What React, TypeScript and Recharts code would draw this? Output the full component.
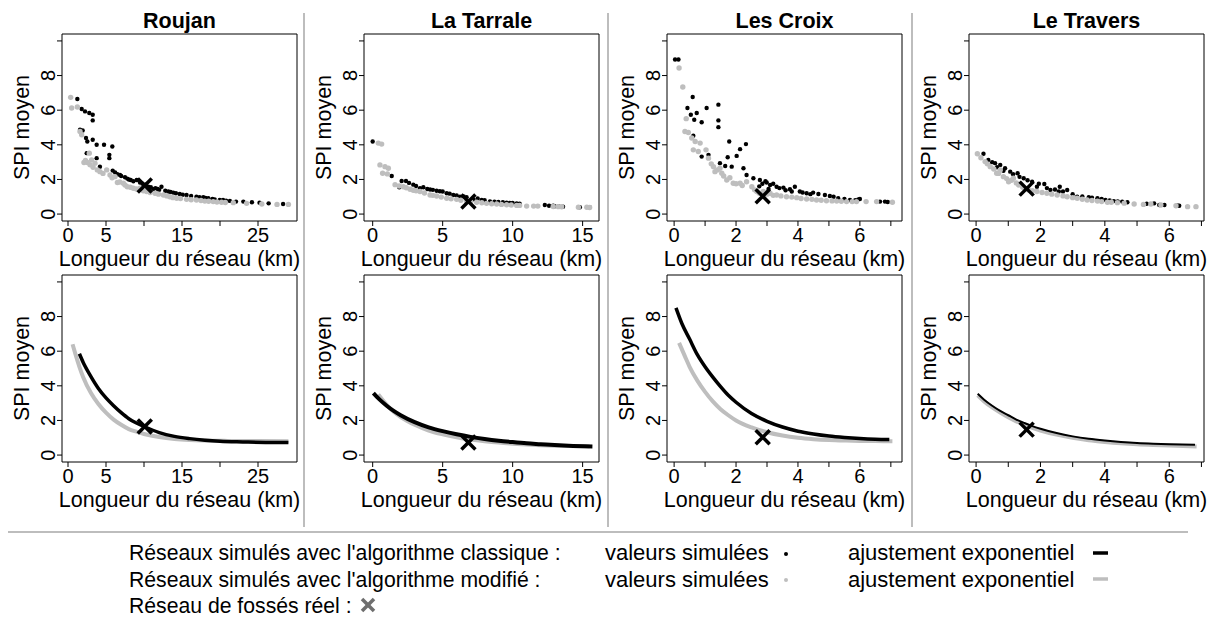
import React from "react";
import { ComposedChart, Scatter, Line, XAxis, YAxis, ReferenceArea } from "recharts";

type Pt = [number, number];

const GREY = "#bebebe";
const FONT = "'Liberation Sans', Arial, Helvetica, sans-serif";

const siteNames = ["Roujan", "La Tarrale", "Les Croix", "Le Travers"];

// axes
const xDomains: [number, number][] = [
  [-0.79, 30.13],
  [-0.62, 16.17],
  [-0.23, 7.36],
  [-0.22, 7.08],
];
const xTicks = [
  [0, 5, 10, 15, 20, 25],
  [0, 5, 10, 15],
  [0, 1, 2, 3, 4, 5, 6, 7],
  [0, 1, 2, 3, 4, 5, 6, 7],
];
const xTickLabels = [
  [0, 5, 15, 25],
  [0, 5, 10, 15],
  [0, 2, 4, 6],
  [0, 2, 4, 6],
];
const yDomain: [number, number] = [-0.4, 10.4];
const yTicks = [0, 2, 4, 6, 8, 10];
const yTickLabels = [0, 2, 4, 6, 8];

// réseaux réels (x)
const realNetwork: Pt[] = [
  [10.1, 1.65],
  [6.84, 0.72],
  [2.86, 1.03],
  [1.57, 1.47],
];

// valeurs simulées - algorithme classique
const roujanClassic: Pt[] = [
  [1.23, 6.65], [1.8, 6.07], [2.24, 5.93], [2.8, 5.84], [3.25, 5.74], [3.25, 5.41],
  [1.58, 4.87], [1.93, 4.83], [2.37, 4.39], [2.54, 4.19], [3.25, 4.29], [3.77, 4.0],
  [4.74, 4.0], [5.83, 3.9], [5.44, 3.42], [5.44, 3.23], [2.46, 3.52], [3.77, 3.23],
  [4.2, 2.74], [5.88, 2.51], [6.2, 2.4], [6.5, 2.3], [6.84, 2.26], [7.0, 2.2], [7.5, 2.13],
  [7.8, 2.05], [8.0, 2.0], [8.25, 1.97], [8.6, 1.9], [9.04, 1.97], [9.47, 1.82], [9.8, 1.75],
  [10.2, 1.7], [10.57, 1.58], [10.9, 1.55], [11.23, 1.43], [11.5, 1.5], [11.8, 1.45],
  [12.0, 1.4], [12.3, 1.58], [12.8, 1.35], [13.2, 1.3], [13.5, 1.28], [13.86, 1.24],
  [14.2, 1.2], [14.7, 1.16], [15.1, 1.12], [15.6, 1.1], [16.2, 1.05], [16.9, 1.0],
  [17.3, 0.98], [17.8, 0.97], [18.1, 0.93], [18.46, 0.91], [19.0, 0.87], [19.3, 0.85],
  [19.97, 0.81], [20.4, 0.82], [20.8, 0.77], [21.3, 0.76], [22.1, 0.72], [23.07, 0.72],
  [24.2, 0.68], [25.2, 0.66], [26.4, 0.62], [28.3, 0.58],
];
const tarraleClassic: Pt[] = [
  [0.0, 4.19], [1.36, 2.2], [1.9, 1.55], [2.07, 1.91], [2.38, 1.91], [2.6, 1.8],
  [2.9, 1.7], [3.1, 1.62], [3.38, 1.49], [3.62, 1.55], [3.9, 1.45], [4.1, 1.42],
  [4.3, 1.4], [4.57, 1.35], [4.8, 1.32], [5.0, 1.3], [5.29, 1.2], [5.5, 1.18], [5.76, 1.1],
  [6.0, 1.07], [6.24, 1.0], [6.5, 1.02], [6.71, 0.97], [7.19, 0.85], [7.5, 0.9],
  [7.79, 0.81], [8.0, 0.8], [8.38, 0.73], [8.7, 0.72], [8.98, 0.7], [9.3, 0.68],
  [9.57, 0.66], [9.8, 0.64], [10.0, 0.64], [10.29, 0.62], [10.5, 0.6], [12.3, 0.52],
  [12.6, 0.48], [12.9, 0.48], [13.0, 0.45], [13.3, 0.44], [13.6, 0.43], [14.8, 0.39],
  [15.5, 0.39],
];
const croixClassic: Pt[] = [
  [0.03, 8.93], [0.14, 8.93], [0.43, 6.13], [0.6, 6.76], [0.54, 5.74], [0.65, 5.45],
  [0.73, 5.84], [0.62, 4.52], [0.89, 5.3], [1.05, 6.13], [0.89, 3.32], [1.11, 3.42],
  [1.43, 6.32], [1.43, 5.41], [1.43, 5.02], [1.78, 4.19], [1.73, 3.28], [2.02, 3.36],
  [2.13, 3.75], [2.32, 4.04], [1.48, 2.94], [1.65, 2.78], [1.86, 2.74], [2.24, 2.65],
  [2.34, 2.26], [2.56, 2.07], [2.75, 1.6], [2.77, 1.97], [2.85, 1.75], [2.95, 1.9],
  [2.99, 1.82], [3.05, 1.45], [3.1, 1.68], [3.2, 1.75], [3.31, 1.58], [3.4, 1.5],
  [3.53, 1.53], [3.6, 1.38], [3.74, 1.43], [3.8, 1.3], [3.9, 1.58], [4.06, 1.3],
  [4.15, 1.25], [4.28, 1.2], [4.4, 1.15], [4.49, 1.24], [4.66, 1.16], [4.87, 1.1],
  [5.03, 1.04], [5.15, 1.0], [5.3, 0.91], [5.5, 0.88], [5.68, 0.81], [5.85, 0.8],
  [5.95, 0.85], [6.0, 0.87], [6.65, 0.72], [6.81, 0.72], [6.9, 0.7],
];
const traversClassic: Pt[] = [
  [0.23, 3.48], [0.38, 3.13], [0.5, 3.0], [0.59, 2.94], [0.65, 2.7], [0.75, 2.84],
  [0.85, 2.5], [0.9, 2.65], [1.06, 2.45], [1.15, 2.3], [1.29, 2.36], [1.35, 2.15],
  [1.48, 2.07], [1.6, 1.95], [1.74, 1.87], [1.95, 1.75], [2.12, 1.74], [1.89, 1.58],
  [2.2, 1.5], [2.31, 1.39], [2.45, 1.42], [2.6, 1.58], [2.7, 1.3], [2.83, 1.39],
  [2.57, 1.3], [3.0, 1.15], [3.14, 1.0], [3.3, 1.02], [3.5, 0.97], [3.6, 0.95],
  [3.77, 0.91], [3.9, 0.88], [4.02, 0.81], [4.15, 0.78], [4.28, 0.75], [4.4, 0.73],
  [4.54, 0.72], [4.7, 0.68], [5.3, 0.6], [5.53, 0.62], [5.69, 0.52], [5.85, 0.52],
  [6.25, 0.5], [6.31, 0.48],
];

// valeurs simulées - algorithme modifié
const roujanModified: Pt[] = [
  [0.35, 6.74], [0.48, 6.13], [1.23, 6.18], [1.58, 4.77], [1.8, 4.58], [2.1, 2.98],
  [2.3, 3.1], [2.54, 2.98], [2.8, 3.52], [2.9, 2.85], [3.11, 3.13], [3.3, 2.7],
  [3.55, 2.94], [3.86, 2.55], [4.2, 2.45], [4.6, 2.35], [5.09, 2.55], [5.53, 2.26],
  [5.8, 2.1], [6.18, 2.16], [6.5, 1.82], [6.8, 1.85], [7.28, 1.78], [7.5, 1.68],
  [7.8, 1.58], [8.2, 1.55], [8.6, 1.49], [9.0, 1.45], [9.47, 1.49], [9.9, 1.35],
  [10.35, 1.3], [10.8, 1.25], [11.45, 1.2], [11.9, 1.15], [12.55, 1.1], [13.0, 1.05],
  [13.4, 1.0], [13.8, 0.95], [14.3, 0.91], [14.8, 0.9], [15.6, 0.85], [16.2, 0.83],
  [16.9, 0.81], [17.5, 0.78], [18.0, 0.75], [18.5, 0.74], [19.1, 0.72], [19.6, 0.7],
  [20.2, 0.68], [20.7, 0.67], [21.75, 0.66], [23.5, 0.62], [25.5, 0.58], [27.5, 0.56],
  [29.0, 0.56],
];
const tarraleModified: Pt[] = [
  [0.4, 4.1], [0.64, 4.04], [0.52, 2.84], [0.88, 2.74], [1.12, 2.65], [0.71, 2.36],
  [1.05, 2.32], [1.6, 1.7], [1.9, 1.62], [2.19, 1.58], [2.4, 1.52], [2.67, 1.43],
  [2.9, 1.38], [3.1, 1.35], [3.38, 1.3], [3.7, 1.22], [4.1, 1.1], [4.3, 1.08],
  [4.57, 1.04], [4.9, 0.98], [5.29, 0.91], [5.6, 0.88], [6.0, 0.85], [6.3, 0.8],
  [6.71, 0.75], [7.0, 0.72], [7.43, 0.68], [7.8, 0.65], [8.14, 0.62], [8.5, 0.6],
  [8.86, 0.58], [9.2, 0.56], [9.57, 0.54], [9.9, 0.52], [10.29, 0.5], [10.5, 0.5],
  [11.0, 0.46], [11.5, 0.46], [11.8, 0.46], [12.9, 0.44], [13.26, 0.43], [13.5, 0.42],
  [14.7, 0.39], [15.3, 0.39], [15.5, 0.38],
];
const croixModified: Pt[] = [
  [0.16, 8.44], [0.28, 7.34], [0.39, 5.51], [0.35, 4.77], [0.46, 4.71], [0.57, 4.39],
  [0.68, 4.19], [0.84, 4.1], [0.62, 3.71], [0.78, 3.61], [1.03, 3.71], [1.11, 3.23],
  [1.2, 2.9], [1.27, 2.74], [1.32, 2.45], [1.4, 2.55], [1.48, 2.65], [1.54, 2.36],
  [1.6, 2.2], [1.7, 1.97], [1.8, 2.1], [1.91, 1.78], [2.0, 1.75], [2.13, 1.78],
  [2.2, 1.65], [2.34, 1.87], [2.51, 1.58], [2.6, 1.4], [2.67, 1.3], [2.75, 1.2],
  [2.88, 1.3], [3.0, 1.15], [3.1, 1.2], [3.2, 1.08], [3.31, 1.1], [3.45, 1.05],
  [3.63, 1.0], [3.8, 0.98], [3.96, 0.95], [4.1, 0.9], [4.28, 0.87], [4.45, 0.85],
  [4.6, 0.81], [4.75, 0.8], [4.92, 0.77], [5.1, 0.76], [5.25, 0.75], [5.4, 0.74],
  [5.57, 0.72], [5.75, 0.72], [5.89, 0.72], [6.2, 0.72], [6.54, 0.72], [7.05, 0.68],
];
const traversModified: Pt[] = [
  [0.04, 3.48], [0.15, 3.25], [0.28, 3.03], [0.35, 2.9], [0.44, 2.74], [0.55, 2.6],
  [0.64, 2.36], [0.7, 2.35], [0.75, 2.55], [0.85, 2.16], [0.95, 2.05], [1.01, 1.87],
  [1.1, 1.95], [1.16, 2.07], [1.25, 1.8], [1.32, 1.68], [1.45, 1.55], [1.63, 1.39],
  [1.75, 1.35], [1.89, 1.3], [2.05, 1.25], [2.2, 1.2], [2.35, 1.15], [2.52, 1.1],
  [2.7, 1.05], [2.83, 1.0], [3.0, 0.95], [3.14, 0.91], [3.3, 0.86], [3.45, 0.81],
  [3.6, 0.78], [3.77, 0.75], [3.9, 0.72], [4.08, 0.68], [4.2, 0.68], [4.39, 0.66],
  [4.6, 0.63], [4.91, 0.58], [5.2, 0.56], [5.43, 0.58], [5.74, 0.52], [6.21, 0.48],
  [6.57, 0.43], [6.83, 0.43],
];

// ajustement exponentiel
const roujanFitClassic: Pt[] = [
  [1.5, 5.85], [2, 5.35], [3, 4.55], [4, 3.85], [5, 3.3], [6, 2.85], [7, 2.45], [8, 2.1],
  [9, 1.85], [10, 1.65], [12, 1.3], [14, 1.08], [16, 0.95], [18, 0.86], [20, 0.8],
  [23, 0.76], [26, 0.73], [29, 0.72],
];
const roujanFitModified: Pt[] = [
  [0.6, 6.4], [1, 5.8], [1.5, 5.1], [2, 4.5], [3, 3.6], [4, 2.95], [5, 2.45], [6, 2.05],
  [7, 1.75], [8, 1.5], [9, 1.35], [10, 1.22], [12, 1.04], [14, 0.93], [16, 0.87],
  [18, 0.84], [21, 0.82], [25, 0.81], [29, 0.8],
];
const tarraleFitClassic: Pt[] = [
  [0.05, 3.58], [0.5, 3.2], [1, 2.85], [1.5, 2.55], [2, 2.3], [3, 1.9], [4, 1.6],
  [5, 1.38], [6, 1.2], [7, 1.05], [8, 0.93], [9, 0.83], [10, 0.75], [11, 0.68],
  [12, 0.63], [13, 0.58], [14, 0.54], [15.7, 0.5],
];
const tarraleFitModified: Pt[] = [
  [0.4, 3.5], [1, 2.9], [1.5, 2.5], [2, 2.2], [3, 1.75], [4, 1.42], [5, 1.2], [6, 1.03],
  [7, 0.9], [8, 0.8], [9, 0.72], [10, 0.66], [11, 0.61], [12, 0.57], [13, 0.54],
  [14, 0.52], [15.5, 0.5],
];
const croixFitClassic: Pt[] = [
  [0.06, 8.5], [0.25, 7.6], [0.5, 6.7], [0.75, 5.8], [1, 5.1], [1.25, 4.5], [1.5, 3.95],
  [1.75, 3.45], [2, 3.05], [2.5, 2.4], [3, 1.95], [3.5, 1.62], [4, 1.38], [4.5, 1.22],
  [5, 1.1], [5.5, 1.02], [6, 0.96], [6.5, 0.92], [6.95, 0.9],
];
const croixFitModified: Pt[] = [
  [0.16, 6.48], [0.35, 5.7], [0.5, 5.1], [0.75, 4.3], [1, 3.65], [1.25, 3.1], [1.5, 2.65],
  [1.75, 2.3], [2, 2.0], [2.5, 1.6], [3, 1.32], [3.5, 1.13], [4, 1.0], [4.5, 0.92],
  [5, 0.87], [5.5, 0.84], [6, 0.82], [6.5, 0.81], [7.05, 0.8],
];
const traversFitClassic: Pt[] = [
  [0.05, 3.54], [0.25, 3.2], [0.5, 2.85], [0.75, 2.55], [1, 2.3], [1.25, 2.05],
  [1.5, 1.85], [1.75, 1.67], [2, 1.52], [2.5, 1.27], [3, 1.08], [3.5, 0.94], [4, 0.84],
  [4.5, 0.76], [5, 0.7], [5.5, 0.66], [6, 0.63], [6.8, 0.6],
];
const traversFitModified: Pt[] = [
  [0.05, 3.45], [0.25, 3.1], [0.5, 2.75], [0.75, 2.45], [1, 2.18], [1.25, 1.95],
  [1.5, 1.75], [1.75, 1.57], [2, 1.42], [2.5, 1.18], [3, 1.0], [3.5, 0.86], [4, 0.76],
  [4.5, 0.68], [5, 0.62], [5.5, 0.58], [6, 0.55], [6.85, 0.5],
];

const classicPoints = [roujanClassic, tarraleClassic, croixClassic, traversClassic];
const modifiedPoints = [roujanModified, tarraleModified, croixModified, traversModified];
const classicFits = [roujanFitClassic, tarraleFitClassic, croixFitClassic, traversFitClassic];
const modifiedFits = [roujanFitModified, tarraleFitModified, croixFitModified, traversFitModified];
const classicFitWidth = [3.5, 4, 3.5, 2];

// layout
const boxLeft = [62, 364, 667, 969];
const boxW = 235;
const boxH = 187;
const rowTop = [34, 275];
const Y_AXIS_W = 62;
const CHART_W = Y_AXIS_W + boxW + 8;
const CHART_H = 34 + boxH + 50;

const toObj = (pts: Pt[]) => pts.map(([x, y]) => ({ x, y }));

const Cross = (props: any) => {
  const { cx, cy } = props;
  if (cx == null || cy == null) return <g />;
  const s = 7;
  return (
    <g stroke="#000" strokeWidth={3.5}>
      <line x1={cx - s} y1={cy - s} x2={cx + s} y2={cy + s} />
      <line x1={cx - s} y1={cy + s} x2={cx + s} y2={cy - s} />
    </g>
  );
};

const dot = (r: number, fill: string) => (props: any) =>
  <circle cx={props.cx} cy={props.cy} r={r} fill={fill} />;

function Panel({ i, row }: { i: number; row: number }) {
  const labelsX = xTickLabels[i];
  const dom = xDomains[i];
  return (
    <div style={{ position: "absolute", left: boxLeft[i] - Y_AXIS_W, top: rowTop[row] - 34 }}>
      <ComposedChart
        width={CHART_W}
        height={CHART_H}
        margin={{ top: 34, right: 8, bottom: 0, left: 0 }}
      >
        <XAxis
          type="number"
          dataKey="x"
          domain={dom}
          ticks={xTicks[i]}
          interval={0}
          allowDataOverflow
          axisLine={false}
          tickSize={5}
          tickLine={{ stroke: "#000" }}
          height={50}
          tick={(p: any) =>
            labelsX.includes(p.payload.value) ? (
              <text x={p.x} y={p.y} dy={14} textAnchor="middle" fontSize={20} fontFamily={FONT} fill="#000">
                {p.payload.value}
              </text>
            ) : (
              <g />
            )
          }
        />
        <YAxis
          type="number"
          dataKey="y"
          domain={yDomain}
          ticks={yTicks}
          interval={0}
          allowDataOverflow
          axisLine={false}
          tickSize={5}
          tickLine={{ stroke: "#000" }}
          width={Y_AXIS_W}
          tick={(p: any) =>
            yTickLabels.includes(p.payload.value) ? (
              <text
                transform={`translate(${p.x},${p.y}) rotate(-90)`}
                textAnchor="middle"
                fontSize={20}
                fontFamily={FONT}
                fill="#000"
              >
                {p.payload.value}
              </text>
            ) : (
              <g />
            )
          }
        />
        <ReferenceArea
          x1={dom[0]}
          x2={dom[1]}
          y1={yDomain[0]}
          y2={yDomain[1]}
          fill="none"
          fillOpacity={0}
          stroke="#000"
          strokeWidth={1}
          ifOverflow="visible"
        />
        {row === 0 ? (
          <>
            <Scatter data={toObj(classicPoints[i])} shape={dot(2.2, "#000")} isAnimationActive={false} />
            <Scatter data={toObj(modifiedPoints[i])} shape={dot(2.7, GREY)} isAnimationActive={false} />
          </>
        ) : (
          <>
            <Line
              data={toObj(modifiedFits[i])}
              dataKey="y"
              type="monotone"
              stroke={GREY}
              strokeWidth={4}
              dot={false}
              activeDot={false}
              isAnimationActive={false}
            />
            <Line
              data={toObj(classicFits[i])}
              dataKey="y"
              type="monotone"
              stroke="#000"
              strokeWidth={classicFitWidth[i]}
              dot={false}
              activeDot={false}
              isAnimationActive={false}
            />
          </>
        )}
        <Scatter data={toObj([realNetwork[i]])} shape={Cross} isAnimationActive={false} />
      </ComposedChart>
    </div>
  );
}

function Overlay() {
  const txt = { fontFamily: FONT, fontSize: 21.5, fill: "#000" } as const;
  const legL = { fontFamily: FONT, fontSize: 21.2, fill: "#000" } as const;
  const leg = { fontFamily: FONT, fontSize: 22, fill: "#000" } as const;
  return (
    <svg
      width={1215}
      height={619}
      style={{ position: "absolute", left: 0, top: 0, pointerEvents: "none" }}
    >
      {[304, 608, 912].map((x) => (
        <line key={x} x1={x} x2={x} y1={13} y2={527} stroke="#bdbdbd" strokeWidth={2} />
      ))}
      <line x1={8} x2={1188} y1={532} y2={532} stroke="#bdbdbd" strokeWidth={2} />
      {siteNames.map((name, i) => {
        const cx = boxLeft[i] + boxW / 2;
        return (
          <g key={name}>
            <text x={cx} y={28} textAnchor="middle" {...txt} fontWeight="bold">
              {name}
            </text>
            {rowTop.map((t) => (
              <g key={t}>
                <text x={cx} y={t + boxH + 45} textAnchor="middle" {...txt}>
                  Longueur du réseau (km)
                </text>
                <text
                  transform={`translate(${boxLeft[i] - 33},${t + boxH / 2}) rotate(-90)`}
                  textAnchor="middle"
                  {...txt}
                >
                  SPI moyen
                </text>
              </g>
            ))}
          </g>
        );
      })}
      <text x={129} y={560} {...legL}>Réseaux simulés avec l'algorithme classique :</text>
      <text x={129} y={586.5} {...legL}>Réseaux simulés avec l'algorithme modifié :</text>
      <text x={129} y={613} {...legL}>Réseau de fossés réel :</text>
      <g stroke="#6e6e6e" strokeWidth={3.5}>
        <line x1={362} y1={599} x2={374} y2={611} />
        <line x1={362} y1={611} x2={374} y2={599} />
      </g>
      <text x={605} y={560} {...leg}>valeurs simulées</text>
      <text x={605} y={586.5} {...leg}>valeurs simulées</text>
      <circle cx={786} cy={554} r={2} fill="#000" />
      <circle cx={786} cy={580} r={2} fill={GREY} />
      <text x={848} y={560} {...leg}>ajustement exponentiel</text>
      <text x={848} y={586.5} {...leg}>ajustement exponentiel</text>
      <line x1={1093} x2={1108} y1={553} y2={553} stroke="#000" strokeWidth={3.5} />
      <line x1={1093} x2={1108} y1={579} y2={579} stroke={GREY} strokeWidth={3.5} />
    </svg>
  );
}

export default function App() {
  return (
    <div
      style={{
        position: "absolute",
        left: 0,
        top: 0,
        width: 1215,
        height: 619,
        background: "#fff",
        fontFamily: FONT,
      }}
    >
      {[0, 1].map((row) =>
        [0, 1, 2, 3].map((i) => <Panel key={`${row}-${i}`} i={i} row={row} />)
      )}
      <Overlay />
    </div>
  );
}
